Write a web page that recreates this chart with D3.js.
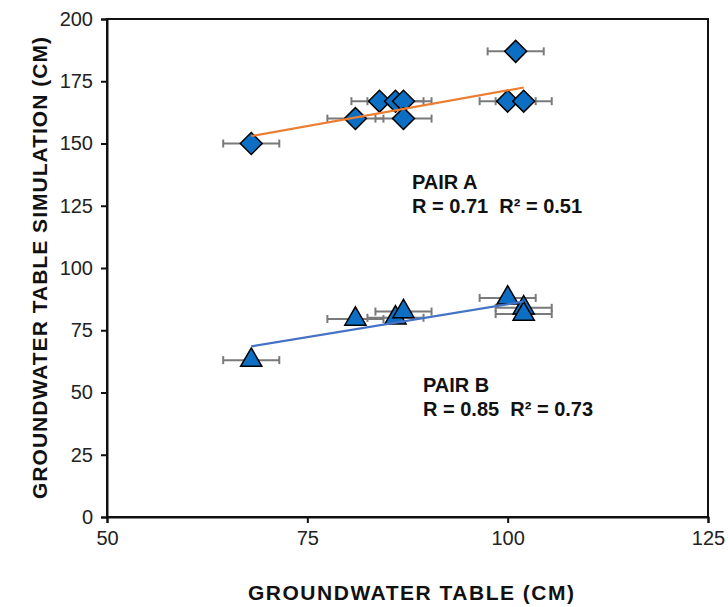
<!DOCTYPE html>
<html>
<head>
<meta charset="utf-8">
<script src="https://cdn.jsdelivr.net/npm/d3@7"></script>
<style>
  body { margin: 0; background: #fff; }
  text { font-family: "Liberation Sans", Arial, sans-serif; }
</style>
</head>
<body>
<div id="chart"></div>
<script>
// Pair A (diamonds)
const pairAX = [68, 81, 84, 86, 87, 87, 100, 102, 101];
const pairAY = [150, 160, 167, 167, 167, 160, 167, 167, 187];
// Pair B (triangles)
const pairBX = [68, 81, 86, 87, 100, 102, 102];
const pairBY = [63, 79.5, 80, 82.5, 88, 84, 81.5];
// horizontal error (± cm)
const xError = 3.5;
// trend lines
const trendX = [68, 102];
const trendAY = [153, 172.5];
const trendBY = [68.5, 86.5];

const xTicks = [50, 75, 100, 125];
const yTicks = [0, 25, 50, 75, 100, 125, 150, 175, 200];

const width = 728, height = 607;
const margin = {top: 19, right: 20, bottom: 90, left: 107};

const svg = d3.select('#chart')
    .append('svg')
    .attr('width', width)
    .attr('height', height);

const xScale = d3.scaleLinear()
    .domain([50, 125])
    .range([margin.left, width - margin.right]);

const yScale = d3.scaleLinear()
    .domain([0, 200])
    .range([height - margin.bottom, margin.top]);

// frame
svg.append('rect')
    .attr('x', xScale(50))
    .attr('y', yScale(200))
    .attr('width', xScale(125) - xScale(50))
    .attr('height', yScale(0) - yScale(200))
    .attr('fill', 'none')
    .attr('stroke', '#111')
    .attr('stroke-width', 2);

// axes
const xAxis = svg.append('g')
    .attr('transform', `translate(0,${yScale(0)})`)
    .call(d3.axisBottom(xScale).tickValues(xTicks).tickSize(6).tickPadding(8));

const yAxis = svg.append('g')
    .attr('transform', `translate(${xScale(50)},0)`)
    .call(d3.axisLeft(yScale).tickValues(yTicks).tickSize(6).tickPadding(8));

[xAxis, yAxis].forEach(ax => {
    ax.select('.domain').attr('stroke', '#111').attr('stroke-width', 2);
    ax.selectAll('.tick line').attr('stroke', '#111').attr('stroke-width', 2);
    ax.selectAll('.tick text')
        .attr('fill', '#222')
        .style('font-size', '20px')
        .style('font-family', '"Liberation Sans", Arial, sans-serif');
});

const pointsA = pairAX.map((x, i) => ({x: x, y: pairAY[i]}));
const pointsB = pairBX.map((x, i) => ({x: x, y: pairBY[i]}));

// error bars
function errorBars(points) {
    const g = svg.append('g')
        .attr('stroke', '#7a7a7a')
        .attr('stroke-width', 2);
    points.forEach(p => {
        const y = yScale(p.y);
        g.append('line')
            .attr('x1', xScale(p.x - xError)).attr('x2', xScale(p.x + xError))
            .attr('y1', y).attr('y2', y);
        [p.x - xError, p.x + xError].forEach(v => {
            g.append('line')
                .attr('x1', xScale(v)).attr('x2', xScale(v))
                .attr('y1', y - 4).attr('y2', y + 4);
        });
    });
}
errorBars(pointsA);
errorBars(pointsB);

// markers
svg.append('g').selectAll('path')
    .data(pointsA)
    .enter()
    .append('path')
    .attr('d', d3.symbol().type(d3.symbolSquare).size(240))
    .attr('transform', d => `translate(${xScale(d.x)},${yScale(d.y)}) rotate(45)`)
    .attr('fill', '#0d6fc4')
    .attr('stroke', '#000')
    .attr('stroke-width', 1.5);

svg.append('g').selectAll('path')
    .data(pointsB)
    .enter()
    .append('path')
    .attr('d', d3.symbol().type(d3.symbolTriangle).size(195))
    .attr('transform', d => `translate(${xScale(d.x)},${yScale(d.y)})`)
    .attr('fill', '#0d6fc4')
    .attr('stroke', '#000')
    .attr('stroke-width', 1.5);

// trend lines
const line = d3.line()
    .x(d => xScale(d[0]))
    .y(d => yScale(d[1]));

svg.append('path')
    .attr('d', line(trendX.map((x, i) => [x, trendAY[i]])))
    .attr('fill', 'none')
    .attr('stroke', '#ed7d31')
    .attr('stroke-width', 2.2);

svg.append('path')
    .attr('d', line(trendX.map((x, i) => [x, trendBY[i]])))
    .attr('fill', 'none')
    .attr('stroke', '#4472c4')
    .attr('stroke-width', 2.2);

// annotations
function note(x, y, title, stats) {
    const t = svg.append('text')
        .attr('x', x).attr('y', y)
        .attr('fill', '#111')
        .style('font-size', '20px')
        .style('font-weight', 'bold')
        .style('white-space', 'pre');
    t.append('tspan').attr('x', x).text(title);
    t.append('tspan').attr('x', x).attr('dy', 24).text(stats);
}
note(412, 189, 'PAIR A', 'R = 0.71  R\u00b2 = 0.51');
note(423, 392, 'PAIR B', 'R = 0.85  R\u00b2 = 0.73');

// axis titles
svg.append('text')
    .attr('x', 411)
    .attr('y', 600)
    .attr('text-anchor', 'middle')
    .attr('fill', '#111')
    .attr('textLength', 326)
    .style('font-size', '21px')
    .style('font-weight', 'bold')
    .text('GROUNDWATER TABLE (CM)');

svg.append('text')
    .attr('transform', `translate(47,${(yScale(0) + yScale(200)) / 2}) rotate(-90)`)
    .attr('text-anchor', 'middle')
    .attr('fill', '#111')
    .attr('textLength', 462)
    .style('font-size', '21px')
    .style('font-weight', 'bold')
    .text('GROUNDWATER TABLE SIMULATION (CM)');
</script>
</body>
</html>
